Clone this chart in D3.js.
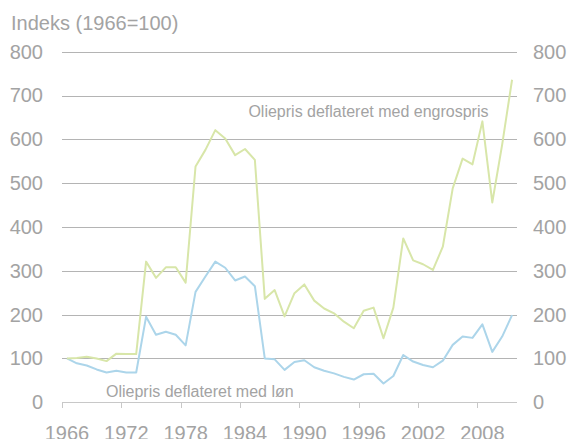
<!DOCTYPE html>
<html>
<head>
<meta charset="utf-8">
<script src="https://cdn.jsdelivr.net/npm/d3@7"></script>
<style>
  body { margin: 0; background: #fff; }
  svg { display: block; font-family: "Liberation Sans", Arial, sans-serif; }
</style>
</head>
<body>
<div id="chart"></div>
<script>
const years = d3.range(1966, 2012);
const engros = [100, 101, 104, 100, 94, 111, 110, 110, 321, 284, 308, 308, 273, 538, 576, 621, 602, 564, 578, 553,
  236, 256, 196, 249, 269, 232, 214, 203, 184, 169, 209, 216, 146, 216, 374, 324, 315, 302, 355, 488,
  556, 543, 641, 456, 588, 736];
const lon = [100, 89, 84, 75, 68, 72, 68, 68, 195, 154, 161, 154, 130, 252, 287, 321, 307, 278, 287, 265,
  100, 98, 74, 92, 96, 80, 72, 66, 58, 52, 64, 65, 43, 60, 108, 93, 85, 80, 95, 131,
  150, 147, 178, 115, 150, 199];
const yTicks = [0, 100, 200, 300, 400, 500, 600, 700, 800];
const xTickYears = [1966, 1972, 1978, 1984, 1990, 1996, 2002, 2008];

const W = 571, H = 439;
const m = {left: 62, right: 517, top: 51.7, bottom: 402.3};
const grey = "#a3a3a3";

const svg = d3.select("#chart").append("svg").attr("width", W).attr("height", H);

const x = d3.scaleBand().domain(years).range([m.left, m.right]).padding(0);
const y = d3.scaleLinear().domain([0, 800]).range([m.bottom, m.top]);
const cx = d => x(d) + x.bandwidth() / 2;

// gridlines
svg.append("g").selectAll("line").data(yTicks.filter(d => d > 0)).join("line")
  .attr("x1", m.left).attr("x2", m.right)
  .attr("y1", d => Math.round(y(d)) + 0.5).attr("y2", d => Math.round(y(d)) + 0.5)
  .attr("stroke", "#b4b4b4").attr("stroke-width", 1);

// y labels left and right
const yl = d3.axisLeft(y).tickValues(yTicks).tickSize(0).tickPadding(19);
const gL = svg.append("g").attr("transform", `translate(${m.left},0)`).call(yl);
const yr = d3.axisRight(y).tickValues(yTicks).tickSize(0).tickPadding(16);
const gR = svg.append("g").attr("transform", `translate(${m.right},0)`).call(yr);
[gL, gR].forEach(g => {
  g.select(".domain").remove();
  g.selectAll("text").attr("font-size", 20).attr("fill", grey)
    .attr("font-family", "Liberation Sans, Arial, sans-serif");
});

// x axis
const xg = svg.append("g");
xg.append("line").attr("x1", m.left).attr("x2", m.right)
  .attr("y1", Math.round(m.bottom) + 0.5).attr("y2", Math.round(m.bottom) + 0.5)
  .attr("stroke", "#c8c8c8");
xg.selectAll(".tk").data(xTickYears).join("line")
  .attr("x1", d => Math.round(x(d)) + 0.5).attr("x2", d => Math.round(x(d)) + 0.5)
  .attr("y1", Math.round(m.bottom)).attr("y2", Math.round(m.bottom) + 6)
  .attr("stroke", "#c8c8c8");
xg.selectAll("text").data(xTickYears).join("text")
  .attr("x", d => cx(d)).attr("y", 439.5)
  .attr("text-anchor", "middle").attr("font-size", 20).attr("fill", grey)
  .text(d => d);

// lines
const line = vals => d3.line().x((d, i) => cx(years[i])).y(d => y(d))(vals);
svg.append("path").attr("d", line(lon)).attr("fill", "none")
  .attr("stroke", "#acd5ea").attr("stroke-width", 2).attr("stroke-linejoin", "round");
svg.append("path").attr("d", line(engros)).attr("fill", "none")
  .attr("stroke", "#d8e6a9").attr("stroke-width", 2).attr("stroke-linejoin", "round");

// texts
svg.append("text").attr("x", 11).attr("y", 29.5).attr("font-size", 20).attr("fill", grey)
  .text("Indeks (1966=100)");
svg.append("text").attr("x", 488.5).attr("y", 117).attr("text-anchor", "end")
  .attr("font-size", 16).attr("fill", grey).text("Oliepris deflateret med engrospris");
svg.append("text").attr("x", 106).attr("y", 396.5)
  .attr("font-size", 16).attr("fill", grey).text("Oliepris deflateret med løn");
</script>
</body>
</html>
